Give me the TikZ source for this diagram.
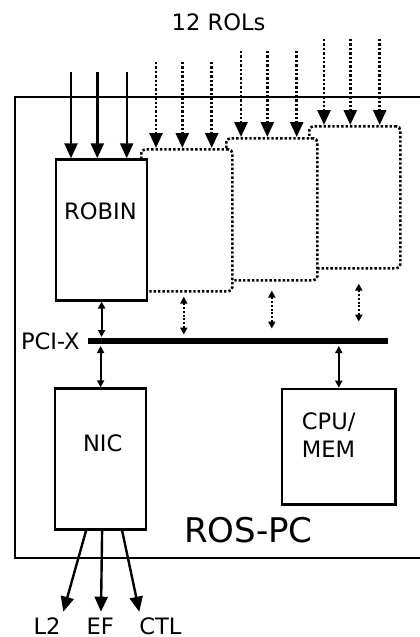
\documentclass[tikz,border=0pt]{standalone}
\usepackage{fontspec}
\setmainfont{DejaVu Sans}
\usepackage{tikz}
\usetikzlibrary{arrows.meta,calc,positioning}

\begin{document}
\begin{tikzpicture}[x=0.5pt,y=-0.5pt,
    card/.style={draw,line width=1.1pt,fill=white,minimum width=45.5pt,
      minimum height=70.5pt,anchor=north west,inner sep=0pt},
    spare/.style={draw,line width=1.3pt,dash pattern=on 1.2pt off 1pt,
      rounded corners=2pt,fill=white,minimum width=45.5pt,
      minimum height=71pt,anchor=north west,inner sep=0pt},
    feed/.style={line width=1.2pt,-{Triangle[length=7.5pt,width=6.5pt]}},
    rol/.style={feed,line width=1.3pt,dash pattern=on 1.2pt off 1pt},
    link/.style={line width=0.9pt,
      {Triangle[length=3.5pt,width=3.5pt]}-{Triangle[length=3.5pt,width=3.5pt]}},
    slot/.style={link,line width=1.1pt,dash pattern=on 1pt off 0.9pt},
    lbl/.style={font=\fontsize{11.3}{14.2}\selectfont,inner sep=0pt}]
  \useasboundingbox (0,0) rectangle (419,637);

  % ROS-PC frame, open on the right
  \draw[line width=1.1pt] (425,96.7) -- (15,96.7) -- (15,557.7) -- (425,557.7);
  \node[font=\fontsize{17}{20}\selectfont,inner sep=0pt] (rospc) at (248.3,530) {ROS-PC};

  % spare ROBIN slots, back to front
  \node[spare] (rob3) at (308,125) {};
  \node[spare] (rob2) at (225,137) {};
  \node[spare] (rob1) at (140,148) {};
  \node[card] (robin) at (55,158.3) {};
  \node[lbl] (robintxt) at (100.5,211.7) {ROBIN};

  % 12 ROLs
  \node[lbl] (rols) at (218.6,22.7) {12 ROLs};
  \foreach \dx [count=\i] in {16,42.3,71.7}{
    \coordinate (r0\i) at ($(robin.north west)+(\dx,-86)$);
    \draw[feed] (r0\i) -- (r0\i |- robin.north);
    \foreach \b in {1,2,3}{
      \coordinate (r\b\i) at ($(rob\b.north west)+(\dx,-86)$);
      \draw[rol] (r\b\i) -- (r\b\i |- rob\b.north);}}

  % PCI-X bus
  \coordinate (busL) at (88,341);
  \coordinate (busR) at (388,341);
  \draw[line width=3pt] (busL) -- (busR);
  \node[lbl,left=4pt of busL] (pcix) {PCI-X};

  % NIC and CPU/MEM
  \node[card] (nic) at (54,387.3) {};
  \node[lbl] (nictxt) at (102.7,443.3) {NIC};
  \node[card,minimum width=56.7pt,minimum height=57.8pt] (cpu) at (281,387.7) {};
  \node[lbl,align=left] (cputxt) at (328.7,435) {CPU/\\MEM};

  % bus links
  \draw[link] (robin.south) -- ($(robin.south |- busL)+(0,-4)$);
  \draw[link] ($(nic.north |- busL)+(0,5)$) -- (nic.north);
  \draw[link] ($(cpu.north |- busL)+(0,5)$) -- (cpu.north);
  \foreach \b/\dx/\gap in {1/-3/4,2/0/9,3/4/14}{
    \draw[slot] ($(rob\b.south)+(\dx,\gap)$) -- +(0,38);}

  % NIC outputs
  \foreach \dx/\ex/\txt/\tx in {-14.5/63.3/L2/47,1.5/101/EF/100.3,21.5/139.3/CTL/160.5}{
    \coordinate (out\txt) at (\ex,611.7);
    \node[lbl] (lab\txt) at (\tx,626) {\txt};
    \draw[feed] ($(nic.south)+(\dx,0)$) -- (out\txt);}
\end{tikzpicture}
\end{document}
